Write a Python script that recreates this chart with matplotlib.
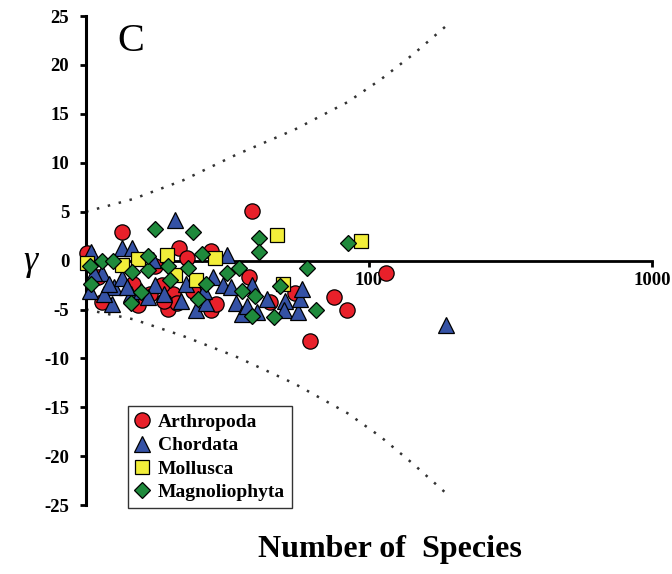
import matplotlib
matplotlib.use('Agg')
import matplotlib.pyplot as plt

# gamma vs number of species
arthropoda_n = [38.5, 13.4, 21.4, 27.7, 22.7, 10.1, 37.6, 44.8, 54.7, 75.5, 83.4, 115, 61.8,
                11.4, 15.3, 19.5, 27.7, 28.8, 20.3, 18.5, 23.9, 17.5, 11.0, 14.7, 16.9, 20.9, 18.8]
arthropoda_g = [5.1, 2.9, 1.25, 1.0, 0.3, 0.8, -1.7, -4.2, -3.3, -3.7, -5.0, -1.3, -8.2,
                -4.2, -4.5, -4.9, -5.1, -4.4, -3.4, -2.5, -3.1, -0.6, -1.7, -2.4, -3.4, -4.3, -4.1]

chordata_n = [20.6, 187, 10.4, 13.4, 14.5, 31.6, 11.4, 12.6, 12.4, 13.4, 14.4, 15.6, 17.5, 18.8,
              21.7, 22.6, 24.5, 26.6, 28.0, 30.4, 32.5, 33.8, 35.7, 37.1, 38.7, 40.2, 43.6, 50.5,
              49.9, 56.2, 57.0, 57.8, 10.3, 16.6, 26.2, 10.7, 11.6, 12.1, 14.0, 17.3]
chordata_g = [4.1, -6.6, 0.9, 1.3, 1.3, 0.6, -1.3, -2.7, -4.4, -1.8, -3.4, -3.1, -2.5, -3.4,
              -4.1, -2.4, -5.0, -4.3, -1.7, -2.5, -2.7, -4.3, -5.5, -4.6, -2.5, -5.3, -3.9, -4.1,
              -5.0, -5.3, -3.9, -2.9, -3.1, -3.75, -3.1, -1.3, -3.4, -2.4, -2.7, 0.1]

mollusca_n = [47.5, 94.0, 19.4, 28.6, 15.3, 13.4, 10.1, 20.6, 24.5, 49.6]
mollusca_g = [2.6, 2.05, 0.6, 0.3, 0.2, -0.5, -0.2, -1.5, -2.0, -2.4]

magnoliophyta_n = [17.5, 23.9, 41.0, 40.8, 84.0, 25.7, 34.7, 60.6, 10.3, 11.4, 12.5, 14.5, 16.5,
                   16.5, 19.5, 22.9, 31.6, 26.6, 35.7, 39.7, 48.5, 38.7, 46.0, 65.2, 24.8, 14.4,
                   15.6, 10.4, 19.8]
magnoliophyta_g = [3.2, 2.95, 2.3, 0.9, 1.8, 0.65, -0.8, -0.8, -0.6, 0.0, 0.0, -1.15, -1.0,
                   0.5, -0.55, -0.8, -1.3, -2.4, -3.1, -3.6, -2.6, -5.7, -5.8, -5.0, -3.9, -4.3,
                   -3.2, -2.4, -2.0]

# dotted envelope
env_n = [10, 14.7, 22.0, 33.8, 54.7, 84.0, 109.9, 143.5, 187.6]
env_upper = [5.0, 6.3, 8.2, 10.8, 13.4, 16.2, 18.5, 21.1, 24.0]
env_lower = [-5.0, -6.0, -7.7, -9.8, -12.6, -15.6, -18.0, -20.8, -23.8]

SERIES = [
    ('Arthropoda', arthropoda_n, arthropoda_g, 'o', '#e8202a', 11),
    ('Chordata', chordata_n, chordata_g, '^', '#3552a5', 12),
    ('Mollusca', mollusca_n, mollusca_g, 's', '#f2ee3a', 10.5),
    ('Magnoliophyta', magnoliophyta_n, magnoliophyta_g, 'D', '#1f8a3c', 8.5),
]

serif = ['Liberation Serif', 'DejaVu Serif']
plt.rcParams['font.family'] = serif
plt.rcParams['axes.unicode_minus'] = False

fig = plt.figure(figsize=(6.72, 5.74), dpi=100)
ax = fig.add_axes([0.128, 0.12, 0.842, 0.852])

ax.plot(env_n, env_upper, color='#333333', linestyle=(0, (1, 3.5)), linewidth=1.8)
ax.plot(env_n, env_lower, color='#333333', linestyle=(0, (1, 3.5)), linewidth=1.8)

for name, xs, ys, mk, col, ms in SERIES:
    ax.plot(xs, ys, linestyle='none', marker=mk, markersize=ms, markerfacecolor=col,
            markeredgecolor='black', markeredgewidth=0.9, label=name, clip_on=False, zorder=3)

ax.set_xscale('log')
ax.set_xlim(10, 1000)
ax.set_ylim(-25, 25)
ax.set_yticks(range(-25, 26, 5))
ax.set_xticks([100, 1000])
ax.set_xticklabels(['100', '1000'])
ax.minorticks_off()

ax.spines['top'].set_visible(False)
ax.spines['right'].set_visible(False)
ax.spines['bottom'].set_position(('data', 0))
ax.spines['bottom'].set_linewidth(2.0)
ax.spines['left'].set_linewidth(2.2)
ax.tick_params(axis='both', direction='out', length=4, width=2, labelsize=13.5)
ax.tick_params(axis='y', pad=8)
ax.tick_params(axis='x', pad=4)
for lab in ax.get_xticklabels() + ax.get_yticklabels():
    lab.set_fontweight('bold')

ax.text(0.055, 0.985, 'C', transform=ax.transAxes, fontsize=29, va='top', ha='left')
fig.text(0.045, 0.545, 'γ', fontsize=26, style='italic', ha='center', va='center')
fig.text(0.58, 0.042, 'Number of  Species', fontsize=23, fontweight='bold', ha='center', va='center')

leg = ax.legend(loc='lower left', bbox_to_anchor=(0.074, -0.006), borderaxespad=0, frameon=True,
                fancybox=False, edgecolor='black', handlelength=0.8, handletextpad=0.4,
                borderpad=0.35, labelspacing=0.3, prop={'family': serif, 'weight': 'bold', 'size': 14})
leg.get_frame().set_linewidth(1.0)

fig.savefig('out.png', dpi=100)
